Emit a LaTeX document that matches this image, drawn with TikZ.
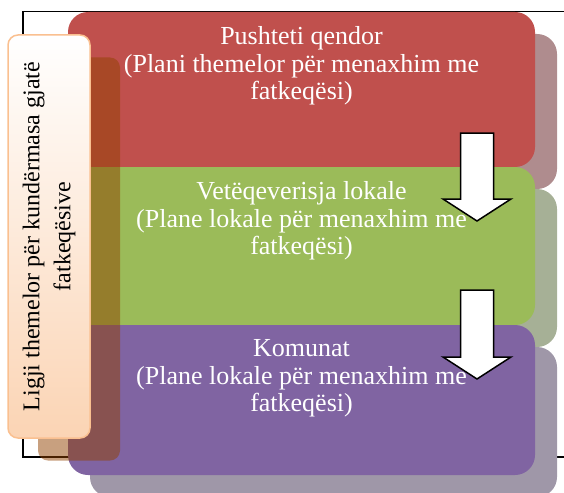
\documentclass[tikz,border=0pt]{standalone}
\usepackage{fontspec}
\setmainfont{Liberation Serif}
\usetikzlibrary{positioning,shadows}

\definecolor{qendorred}{HTML}{C0504D}
\definecolor{lokalegreen}{HTML}{9BBB59}
\definecolor{komunatpurple}{HTML}{8064A2}
\definecolor{qendorshade}{HTML}{AF8C8E}
\definecolor{lokaleshade}{HTML}{A6B096}
\definecolor{komunatshade}{HTML}{9F97A8}
\definecolor{lawpeach}{HTML}{FBD4B4}
\definecolor{lawborder}{HTML}{FAC090}
\definecolor{lawshade}{RGB}{145,65,0}

\begin{document}
\begin{tikzpicture}[
  x = 1pt,
  y = -1pt,
  stage/.style = {
    shape = rectangle,
    rounded corners = 20pt,
    minimum width = 467pt,
    inner sep = 0pt,
    outer sep = 0pt,
    drop shadow = {shadow xshift = 22pt, shadow yshift = -22pt, opacity = 1, fill = #1},
  },
  caption/.style = {
    text = white,
    align = center,
    inner sep = 0pt,
    font = \fontsize{26}{27.5}\selectfont,
  },
  lawbox/.style = {
    shape = rectangle,
    rounded corners = 10pt,
    draw = lawborder,
    line width = 1.5pt,
    top color = white,
    bottom color = lawpeach,
    minimum width = 82pt,
    minimum height = 403pt,
    inner sep = 0pt,
    drop shadow = {shadow xshift = 30pt, shadow yshift = -22.5pt, opacity = 0.5, fill = lawshade},
  },
  down arrow/.style = {
    draw = black,
    fill = white,
    line width = 1.5pt,
    line join = miter,
  }
]
  \useasboundingbox (0, 0) rectangle (564, 492);

  \draw[line width = 1.2pt] (580, 11.5) -- (23, 11.5) -- (23, 457) -- (580, 457);

  \node[stage = qendorshade, fill = qendorred, minimum height = 155pt] (qendor) at (301.5, 89.5) {};
  \node[stage = lokaleshade, fill = lokalegreen, minimum height = 158pt] (lokale) at (301.5, 246) {};
  \node[stage = komunatshade, fill = komunatpurple, minimum height = 150pt] (komunat) at (301.5, 400) {};

  \node[caption, below = 14.5pt of qendor.north] (qendortext)
    {Pushteti qendor\\(Plani themelor për menaxhim me\\fatkeqësi)};
  \node[caption, below = 14.5pt of lokale.north] (lokaletext)
    {Vetëqeverisja lokale\\(Plane lokale për menaxhim me\\fatkeqësi)};
  \node[caption, below = 14.5pt of komunat.north] (komunattext)
    {Komunat\\(Plane lokale për menaxhim me\\fatkeqësi)};

  \draw[down arrow] (477, 133) -- ++(16.5, 0) -- ++(0, 66) -- ++(17.5, 0) -- ++(-34, 22)
    -- ++(-34, -22) -- ++(17.5, 0) -- ++(0, -66) -- cycle;
  \draw[down arrow] (477, 290) -- ++(16.5, 0) -- ++(0, 67) -- ++(17.5, 0) -- ++(-34, 22)
    -- ++(-34, -22) -- ++(17.5, 0) -- ++(0, -67) -- cycle;

  \node[lawbox] (law) at (49, 236.5) {};
  \node[rotate = 90, align = center, inner sep = 0pt, font = \fontsize{24}{31}\selectfont] (lawtext) at (law)
    {Ligji themelor për kundërmasa gjatë\\fatkeqësive};
\end{tikzpicture}
\end{document}
